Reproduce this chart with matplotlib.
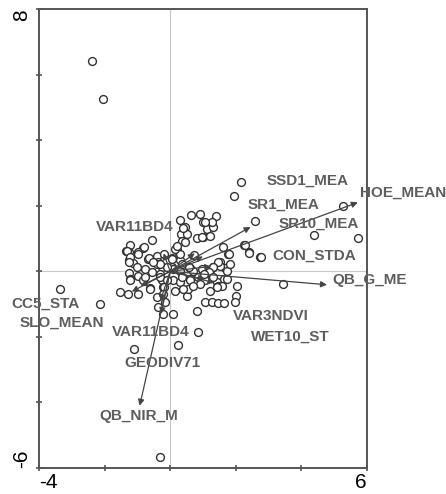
import numpy as np
import matplotlib.pyplot as plt

# sample scores (axis 1, axis 2)
site_x = [-2.39, -2.06, 2.17, 1.95, 2.59, 5.28, 4.37, 5.74, 3.43, -3.35, -2.13, 0.85, 0.23, -1.09, -0.30,
          0.63, 0.91, 1.39, 0.30, 0.45, 1.01, 1.13, 1.30, 0.32, 0.81, 1.01, 1.21, -0.56, 0.37, 0.22,
          -1.23, -1.35, -1.25, -1.25, -1.12, -0.82, -0.97, -0.67, -0.41, -0.36, -0.26, 0.05, 0.30, 0.60,
          0.05, 0.30, 0.73, 1.62, 1.75, 2.25, 2.39, 2.74, 1.52, 1.67, 1.31, 1.01, 1.21, -1.25, -1.23,
          -0.97, -0.82, -0.62, -0.31, -0.26, -0.21, 0.08, 0.30, 0.60, 0.86, 1.06, 1.42, 1.47, 1.65,
          2.03, 2.00, -1.53, -1.28, -0.41, -0.16, -0.36, -0.21, 0.08, 0.50, 0.81, 1.06, 1.26, 1.47,
          1.65, 0.55, -0.81, -1.32, -1.22, -0.97, -0.66, -0.41, -0.20, 0.05, 0.30, 0.46, 0.15, 0.20,
          0.51, 0.39, 0.97, 1.27, 1.07, 1.52, 1.78, 1.47, 1.32, 1.17, 0.97, 0.71, 0.56, 0.36, 0.10,
          -0.10, -0.30, -0.51, -0.76, -1.02, -1.27, -1.22, -0.76, -0.56, -0.30, -0.10, 0.36, 0.61,
          1.02, 1.32, 1.58, 1.73, 1.73, 1.83, 0.91, 0.71, 0.39, 0.15, -0.20, -0.61, -0.97, -0.22,
          1.22, 1.42, 1.97, 2.27, 2.40, 2.77]
site_y = [6.42, 5.25, 2.71, 2.29, 1.52, 1.98, 1.11, 1.01, -0.40, -0.54, -1.01, -1.84, -2.25, -2.38, -5.67,
          1.72, 1.75, 1.68, 1.55, 1.34, 1.49, 1.29, 1.34, 1.14, 1.02, 1.04, 1.09, 0.94, 0.91, 0.65,
          0.80, 0.63, 0.58, 0.33, 0.24, 0.71, 0.58, 0.38, 0.48, 0.27, 0.12, 0.40, 0.33, 0.10,
          0.12, 0.02, 0.49, 0.75, 0.53, 0.80, 0.58, 0.43, 0.27, 0.10, 0.12, 0.02, -0.08, -0.06, -0.23,
          -0.13, -0.28, -0.51, -0.08, -0.28, -0.49, -0.28, -0.34, -0.23, -0.18, -0.28, -0.34, -0.44, -0.23,
          -0.44, -0.74, -0.64, -0.69, -0.79, -0.95, -1.10, -1.30, -1.30, -0.74, -1.20, -0.95, -0.95, -0.97,
          -0.98, -0.54, 0.73, 0.63, 0.43, 0.53, 0.40, 0.22, 0.53, 0.38, 0.53, 0.88, 0.68, 0.78,
          1.14, 1.32, 1.04, 1.49, 1.49, 0.17, 0.53, 0.27, 0.12, -0.03, 0.07, 0.02, 0.12, 0.22, 0.07,
          0.12, 0.22, 0.27, 0.07, 0.12, 0.27, -0.28, -0.18, -0.03, -0.18, -0.28, -0.18, -0.28,
          -0.08, -0.18, -0.44, -0.23, 0.02, 0.22, -0.39, -0.44, -0.54, -0.59, -0.49, -0.54, -0.69, -0.69,
          -0.59, -0.49, -0.95, 0.80, 0.56, 0.43]

# environmental variables (arrow tips)
env_names = ["HOE_MEAN", "SR1_MEA", "SR10_MEA", "SSD1_MEA", "CON_STDA", "QB_G_ME", "VAR3NDVI",
             "WET10_ST", "VAR11BD4", "CC5_STA", "SLO_MEAN", "VAR11BD4", "GEODIV71", "QB_NIR_M"]
env_x = [5.72, 2.45, 1.00, 0.75, 1.25, 4.78, 1.05, 1.35, -0.20, -1.17, -0.90, -0.28, -0.30, -0.93]
env_y = [2.10, 1.35, 0.45, 0.55, 0.15, -0.41, -0.25, -0.35, 0.55, -0.62, -0.45, -1.30, -0.90, -4.10]

# where each label was placed on the published chart (left edge, centre)
label_xy = [(5.78, 2.41), (2.35, 2.03), (3.30, 1.46), (2.95, 2.77), (3.12, 0.48), (4.95, -0.26),
            (1.90, -1.35), (2.45, -2.01), (-2.27, 1.34), (-4.83, -0.99), (-4.58, -1.57),
            (-1.78, -1.84), (-1.41, -2.80), (-2.17, -4.40)]

fig = plt.figure(figsize=(4.46, 4.94), dpi=100)
ax = fig.add_axes([0.0874, 0.0526, 0.7354, 0.9291])
ax.set_xlim(-4, 6)
ax.set_ylim(-6, 8)

ax.axhline(0, color="#c8c8c8", lw=0.8, zorder=0)
ax.axvline(0, color="#c8c8c8", lw=0.8, zorder=0)

ax.scatter(site_x, site_y, s=32, facecolors="white", edgecolors="#333333", linewidths=1.0, zorder=2)

for x, y in zip(env_x, env_y):
    ax.annotate("", xy=(x, y), xytext=(0, 0), zorder=3,
                arrowprops=dict(arrowstyle="-|>", color="#444444", lw=0.9,
                                mutation_scale=9, shrinkA=0, shrinkB=0))

for name, (lx, ly) in zip(env_names, label_xy):
    ax.text(lx, ly, name, ha="left", va="center", fontsize=11, fontweight="bold",
            family="Liberation Sans", color="#5e5e5e", zorder=4, clip_on=False)

for s in ax.spines.values():
    s.set_color("#555555")
    s.set_linewidth(1.4)

ax.set_xticks([-4, -2, 0, 2, 4, 6])
ax.set_xticklabels(["-4", "", "", "", "", "6"])
ax.set_yticks([-6, -4, -2, 0, 2, 4, 6, 8])
ax.set_yticklabels(["-6", "", "", "", "", "", "", "8"], rotation=90)
ax.tick_params(direction="inout", length=5, width=1.2, color="#555555",
               labelsize=15, pad=1)
ax.tick_params(axis="y", pad=3)
xl = ax.get_xticklabels()
xl[0].set_ha("left")
xl[-1].set_ha("right")
yl = ax.get_yticklabels()
yl[0].set_va("bottom")
yl[-1].set_va("top")
for lab in xl + yl:
    lab.set_family("Liberation Sans")

fig.savefig("out.png", dpi=100)
